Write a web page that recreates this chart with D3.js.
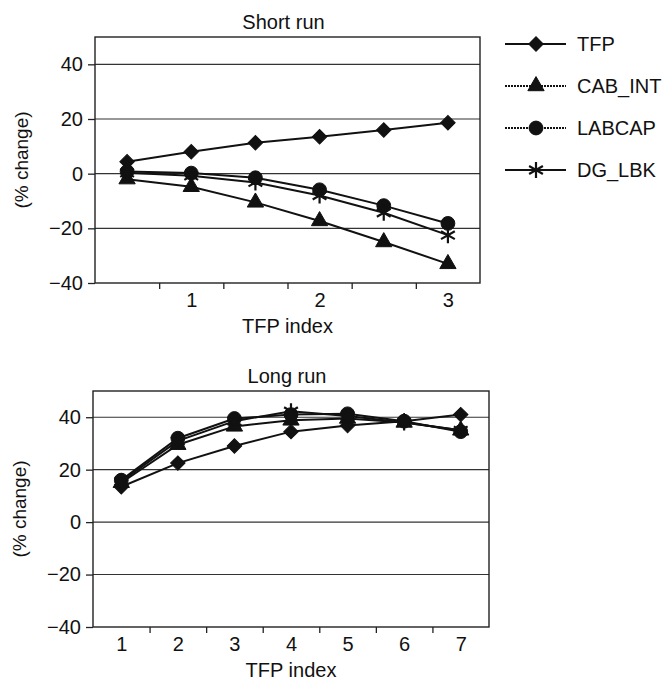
<!DOCTYPE html>
<html>
<head>
<meta charset="utf-8">
<script src="https://cdn.jsdelivr.net/npm/d3@7"></script>
<style>
  body { margin: 0; background: #fff; }
  svg text { font-family: "Liberation Sans", Arial, sans-serif; fill: #111; }
</style>
</head>
<body>
<svg id="chart"></svg>
<script>
const width = 667;
const height = 682;

// series names (legend order)
const seriesNames = ["TFP", "CAB_INT", "LABCAP", "DG_LBK"];

// short run panel
const shortX = [0.5, 1, 1.5, 2, 2.5, 3];
const shortTFP = [4.4, 8, 11.3, 13.5, 16, 18.6];
const shortCAB = [-2, -4.8, -10.5, -17.3, -25, -33];
const shortLAB = [0.8, 0.2, -1.5, -5.9, -11.7, -18.2];
const shortDG = [0.3, -0.8, -3.2, -8.0, -14.3, -22.5];
const shortTicks = [1, 2, 3];

// long run panel
const longX = [1, 2, 3, 4, 5, 6, 7];
const longTFP = [13.5, 22.5, 29, 34.5, 36.8, 38.5, 41];
const longCAB = [15, 29.5, 36.5, 38.8, 39.5, 38, 35];
const longLAB = [16, 32, 39.5, 41, 41.3, 38.5, 34.5];
const longDG = [15.5, 31, 38.5, 42.3, 40.5, 38, 35];
const longTicks = [1, 2, 3, 4, 5, 6, 7];

const yTicks = [-40, -20, 0, 20, 40];

const svg = d3.select("#chart")
  .attr("width", width)
  .attr("height", height);

// marker shapes
const asterisk = {
  draw(ctx, size) {
    const r = Math.sqrt(size) * 0.55;
    for (const a of [90, 30, 150]) {
      const t = a * Math.PI / 180;
      ctx.moveTo(-r * Math.cos(t), -r * Math.sin(t));
      ctx.lineTo(r * Math.cos(t), r * Math.sin(t));
    }
  }
};
const markers = {
  TFP: { type: d3.symbolSquare, size: 105, rotate: 45, fill: true },
  CAB_INT: { type: d3.symbolTriangle, size: 115, rotate: 0, fill: true },
  LABCAP: { type: d3.symbolCircle, size: 150, rotate: 0, fill: true },
  DG_LBK: { type: asterisk, size: 210, rotate: 0, fill: false }
};

function drawMarker(g, name, x, y) {
  const m = markers[name];
  g.append("path")
    .attr("d", d3.symbol(m.type, m.size)())
    .attr("transform", `translate(${x},${y}) rotate(${m.rotate})`)
    .attr("fill", m.fill ? "#111" : "none")
    .attr("stroke", "#111")
    .attr("stroke-width", m.fill ? 1 : 2.2);
}

function panel({ left, top, right, bottom, xDomain, xs, series, ticks, title }) {
  const x = d3.scaleLinear().domain(xDomain).range([left, right]);
  const y = d3.scaleLinear().domain([-40, 50]).range([bottom, top]);
  const g = svg.append("g");

  // grid lines
  g.append("g").selectAll("line")
    .data(yTicks.filter(d => d > -40))
    .join("line")
    .attr("x1", left).attr("x2", right)
    .attr("y1", d => y(d)).attr("y2", d => y(d))
    .attr("stroke", "#333")
    .attr("stroke-width", 1.1);

  // frame
  g.append("rect")
    .attr("x", left).attr("y", top)
    .attr("width", right - left).attr("height", bottom - top)
    .attr("fill", "none")
    .attr("stroke", "#222")
    .attr("stroke-width", 1.4);

  // axes
  const yAxis = g.append("g")
    .attr("transform", `translate(${left},0)`)
    .call(d3.axisLeft(y).tickValues(yTicks).tickSize(7).tickPadding(5)
      .tickFormat(d => d < 0 ? "\u2212" + Math.abs(d) : d));
  yAxis.select(".domain").remove();

  const step = xs[1] - xs[0];
  const bounds = d3.range(xDomain[0] + step, xDomain[1] - step / 2, step);
  g.append("g")
    .attr("transform", `translate(0,${bottom})`)
    .call(d3.axisBottom(x).tickValues(bounds).tickSize(6).tickFormat(""))
    .select(".domain").remove();
  g.append("g")
    .attr("transform", `translate(0,${bottom})`)
    .call(d3.axisBottom(x).tickValues(ticks).tickSize(0).tickPadding(10)
      .tickFormat(d3.format("d")))
    .select(".domain").remove();

  g.selectAll(".tick text")
    .attr("font-size", 20)
    .attr("font-family", "Liberation Sans, Arial, sans-serif")
    .attr("fill", "#111");
  g.selectAll(".tick line").attr("stroke", "#222").attr("stroke-width", 1.3);

  // labels
  const cx = (left + right) / 2;
  g.append("text")
    .attr("x", cx - 4).attr("y", top - 8)
    .attr("text-anchor", "middle")
    .attr("font-size", 20)
    .text(title);
  g.append("text")
    .attr("x", cx).attr("y", bottom + 50)
    .attr("text-anchor", "middle")
    .attr("font-size", 20)
    .text("TFP index");
  g.append("text")
    .attr("transform", `translate(${left - 67},${(top + bottom) / 2}) rotate(-90)`)
    .attr("text-anchor", "middle")
    .attr("font-size", 19)
    .text("(% change)");

  // series
  const line = d3.line().x(d => x(d[0])).y(d => y(d[1]));
  seriesNames.forEach((name, i) => {
    const pts = xs.map((v, j) => [v, series[i][j]]);
    g.append("path")
      .attr("d", line(pts))
      .attr("fill", "none")
      .attr("stroke", "#111")
      .attr("stroke-width", 2);
    pts.forEach(p => drawMarker(g, name, x(p[0]), y(p[1])));
  });
}

panel({
  left: 95, top: 37, right: 480, bottom: 283,
  xDomain: [0.25, 3.25], xs: shortX,
  series: [shortTFP, shortCAB, shortLAB, shortDG],
  ticks: shortTicks, title: "Short run"
});

panel({
  left: 93, top: 391, right: 489, bottom: 627,
  xDomain: [0.5, 7.5], xs: longX,
  series: [longTFP, longCAB, longLAB, longDG],
  ticks: longTicks, title: "Long run"
});

// legend
const legend = svg.append("g");
const legendY = d3.scalePoint().domain(seriesNames).range([44, 170]);
seriesNames.forEach(name => {
  const ly = legendY(name);
  legend.append("line")
    .attr("x1", 505).attr("x2", 566)
    .attr("y1", ly).attr("y2", ly)
    .attr("stroke", "#111")
    .attr("stroke-width", 2)
    .attr("stroke-dasharray", name === "CAB_INT" || name === "LABCAP" ? "2,1" : null);
  drawMarker(legend, name, 536, ly);
  legend.append("text")
    .attr("x", 577).attr("y", ly + 7)
    .attr("font-size", 20)
    .text(name);
});
</script>
</body>
</html>
